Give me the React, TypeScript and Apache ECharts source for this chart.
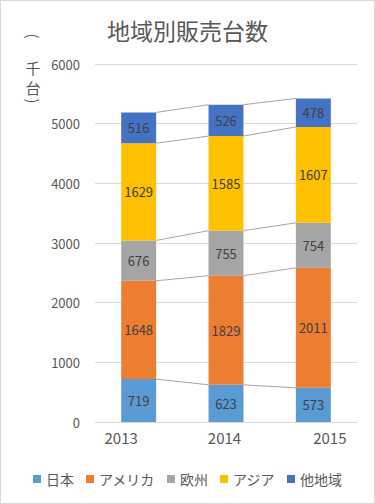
import React, { useEffect, useRef } from "react";
import * as echarts from "echarts";

const years = ["2013", "2014", "2015"];
const seriesNames = ["日本", "アメリカ", "欧州", "アジア", "他地域"];
const japan = [719, 623, 573];
const america = [1648, 1829, 2011];
const europe = [676, 755, 754];
const asia = [1629, 1585, 1607];
const others = [516, 526, 478];
const colors = ["#5B9BD5", "#ED7D31", "#A5A5A5", "#FFC000", "#4472C4"];
const yTicks = [0, 1000, 2000, 3000, 4000, 5000, 6000];
const unitChars = ["(", "千", "台", ")"];

export default function App() {
  const ref = useRef<HTMLDivElement>(null);
  useEffect(() => {
    if (!ref.current) return;
    const chart = echarts.init(ref.current, null, { renderer: "svg" });
    const values = [japan, america, europe, asia, others];
    const cum: number[][] = [];
    values.forEach((arr, k) => {
      cum.push(arr.map((v, i) => (k > 0 ? cum[k - 1][i] : 0) + v));
    });
    const lineData: number[][] = [];
    for (let i = 0; i < years.length - 1; i++) {
      for (let k = 0; k < values.length; k++) lineData.push([i, k]);
    }
    const font = "'Noto Sans CJK JP', 'Noto Sans', sans-serif";
    const barWidthRatio = 0.4;
    const unitY = [35, 66, 86, 100];
    const unitRot = [-Math.PI / 2, 0, 0, -Math.PI / 2];
    const option: any = {
      animation: false,
      color: colors,
      title: {
        text: "地域別販売台数",
        left: "center",
        top: 12,
        textStyle: { fontFamily: font, fontSize: 23, fontWeight: "normal", color: "#595959" },
      },
      graphic: unitChars.map((ch, i) => ({
        type: "text",
        x: 32,
        y: unitY[i],
        rotation: unitRot[i],
        style: {
          text: ch,
          font: `15px ${font}`,
          fill: "#595959",
          align: "center",
          verticalAlign: "middle",
        },
      })),
      legend: {
        data: seriesNames,
        top: 466,
        left: "center",
        itemWidth: 8,
        itemHeight: 8,
        itemGap: 12,
        icon: "rect",
        textStyle: { fontFamily: font, fontSize: 14, color: "#595959" },
      },
      grid: { left: 94, right: 17, top: 63, bottom: 81 },
      xAxis: {
        type: "category",
        data: years,
        axisLine: { lineStyle: { color: "#D9D9D9" } },
        axisTick: { show: false },
        axisLabel: {
          margin: 8,
          fontFamily: font,
          fontSize: 15,
          color: "#595959",
          formatter: (v: string, idx: number) => `{a${idx}|${v}}`,
          rich: {
            a0: { padding: [0, 35, 0, 0], fontSize: 15, color: "#595959", fontFamily: font },
            a1: { padding: [0, 3, 0, 0], fontSize: 15, color: "#595959", fontFamily: font },
            a2: { padding: [0, 0, 0, 33], fontSize: 15, color: "#595959", fontFamily: font },
          },
        },
      },
      yAxis: {
        type: "value",
        min: yTicks[0],
        max: yTicks[yTicks.length - 1],
        interval: 1000,
        axisLine: { show: false },
        axisTick: { show: false },
        splitLine: { lineStyle: { color: "#D9D9D9" } },
        axisLabel: {
          margin: 15,
          fontFamily: font,
          fontSize: 13,
          color: "#595959",
          formatter: (v: number) => String(v),
        },
      },
      series: [
        ...seriesNames.map((name, k) => ({
          name,
          type: "bar",
          stack: "total",
          barWidth: `${barWidthRatio * 100}%`,
          data: values[k],
          itemStyle: { color: colors[k] },
          label: {
            show: true,
            position: "inside",
            fontFamily: font,
            fontSize: 13,
            color: "#404040",
          },
        })),
        {
          type: "custom",
          name: "series-lines",
          data: lineData,
          z: 1,
          silent: true,
          renderItem: (params: any, api: any) => {
            const i = api.value(0);
            const k = api.value(1);
            const p1 = api.coord([i, cum[k][i]]);
            const p2 = api.coord([i + 1, cum[k][i + 1]]);
            const half = (api.size([1, 0])[0] * barWidthRatio) / 2;
            return {
              type: "line",
              shape: { x1: p1[0] + half, y1: p1[1], x2: p2[0] - half, y2: p2[1] },
              style: { stroke: "#A6A6A6", lineWidth: 1 },
            };
          },
        },
      ],
    };
    chart.setOption(option);
    return () => chart.dispose();
  }, []);
  return (
    <div
      style={{
        position: "fixed",
        left: 0,
        top: 0,
        width: 375,
        height: 504,
        boxSizing: "border-box",
        border: "1px solid #D9D9D9",
        background: "#fff",
      }}
    >
      <div ref={ref} style={{ width: 373, height: 502 }} />
    </div>
  );
}
